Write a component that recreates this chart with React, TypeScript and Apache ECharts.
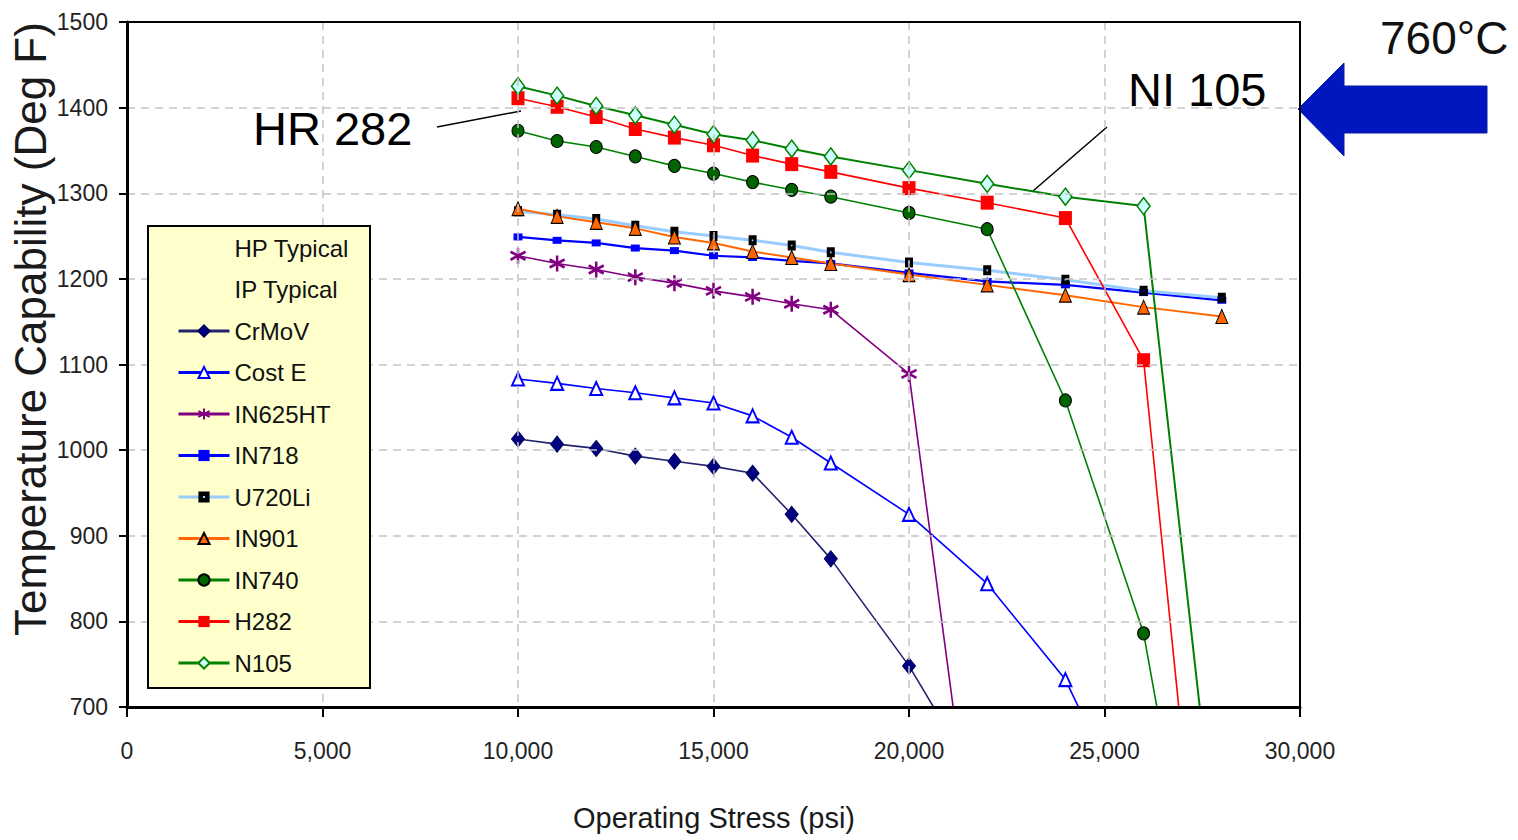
import React, { useEffect, useRef } from 'react';
import * as echarts from 'echarts';

const stress = [10000, 11000, 12000, 13000, 14000, 15000, 16000, 17000, 18000, 20000, 22000, 24000, 26000, 28000];
const crMoV = [1013, 1007, 1002, 993, 987, 981, 973, 925, 873, 748, 595, null, null, null];
const costE = [1083, 1078, 1072, 1067, 1061, 1055, 1040, 1015, 985, 925, 844, 732, 540, null];
const in625ht = [1227, 1218, 1211, 1202, 1195, 1186, 1179, 1171, 1164, 1089, 400, null, null, null];
const in718 = [1249, 1245, 1242, 1236, 1233, 1227, 1225, 1221, 1218, 1207, 1197, 1193, 1184, 1175];
const u720li = [1279, 1275, 1270, 1262, 1255, 1250, 1245, 1239, 1231, 1219, 1210, 1199, 1186, 1178];
const in901 = [1282, 1273, 1266, 1259, 1249, 1242, 1232, 1225, 1218, 1205, 1193, 1181, 1167, 1156];
const in740 = [1373, 1361, 1354, 1343, 1332, 1323, 1313, 1304, 1296, 1277, 1258, 1058, 786, 280];
const h282 = [1411, 1401, 1389, 1375, 1365, 1356, 1344, 1334, 1325, 1306, 1289, 1271, 1105, 205];
const n105 = [1425, 1414, 1402, 1391, 1380, 1369, 1362, 1352, 1343, 1327, 1311, 1296, 1285, 470];

const headerLabels = ['HP Typical', 'IP Typical'];
const seriesNames = ['CrMoV', 'Cost E', 'IN625HT', 'IN718', 'U720Li', 'IN901', 'IN740', 'H282', 'N105'];

const ARIAL = "'Liberation Sans', Arial, sans-serif";

const pairs = (vals: (number | null)[]) =>
  stress.map((x, i) => (vals[i] == null ? null : [x, vals[i]])).filter((p) => p !== null);

const ASTERISK = 'path://M5 0L5 10M0.7 2.5L9.3 7.5M0.7 7.5L9.3 2.5';
const HOLLOW_SQ = 'path://M0 0H10V12H0Z M4 5V7H6V5Z';

export default function App() {
  const ref = useRef<HTMLDivElement>(null);
  useEffect(() => {
    if (!ref.current) return;
    const chart = echarts.init(ref.current, undefined, { renderer: 'svg' });

    const mk = (
      name: string,
      vals: (number | null)[],
      lineColor: string,
      lineWidth: number,
      symbol: string,
      symbolSize: number | number[],
      itemStyle: any
    ) => ({
      type: 'line',
      name,
      data: pairs(vals),
      symbol,
      symbolSize,
      showSymbol: true,
      clip: true,
      lineStyle: { color: lineColor, width: lineWidth },
      itemStyle,
      z: 3,
    });

    const series: any[] = [
      { type: 'line', name: headerLabels[0], data: [] },
      { type: 'line', name: headerLabels[1], data: [] },
      mk(seriesNames[0], crMoV, '#23236e', 1.6, 'diamond', [13, 16], { color: '#000080', borderColor: '#000060', borderWidth: 1 }),
      mk(seriesNames[1], costE, '#0000ff', 1.6, 'emptyTriangle', [12, 13], { color: '#0000ff', borderColor: '#0000ff', borderWidth: 1.8 }),
      mk(seriesNames[2], in625ht, '#800080', 1.6, ASTERISK, [15, 16], { color: '#800080', borderColor: '#800080', borderWidth: 2.6 }),
      mk(seriesNames[3], in718, '#0000ff', 2.2, 'rect', [9, 7], { color: '#0000ff', borderWidth: 0 }),
      mk(seriesNames[4], u720li, '#99ccff', 3, HOLLOW_SQ, [8, 10], { color: '#000000', borderWidth: 0 }),
      mk(seriesNames[5], in901, '#ff6600', 2, 'triangle', [12, 14], { color: '#ff6600', borderColor: '#000000', borderWidth: 1 }),
      mk(seriesNames[6], in740, '#008000', 1.6, 'circle', [12, 13], { color: '#006400', borderColor: '#000000', borderWidth: 1 }),
      mk(seriesNames[7], h282, '#ff0000', 1.6, 'rect', [13, 14], { color: '#ff0000', borderWidth: 0 }),
      mk(seriesNames[8], n105, '#008000', 2, 'diamond', [13, 17], { color: '#ccffff', borderColor: '#008000', borderWidth: 1.5 }),
    ];

    const dashed = { show: true, lineStyle: { color: '#c4c4c4', width: 1.5, type: [8, 6] } };

    const option: any = {
      animation: false,
      backgroundColor: '#ffffff',
      grid: {
        left: 127,
        right: 218,
        top: 22,
        bottom: 133,
        containLabel: false,
      },
      xAxis: [
        {
          type: 'value',
          min: 0,
          max: 30000,
          interval: 5000,
          axisLine: { show: true, lineStyle: { color: '#000', width: 3 } },
          axisTick: { show: true, inside: false, length: 10, lineStyle: { color: '#000', width: 2 } },
          axisLabel: {
            margin: 32,
            fontSize: 23,
            fontFamily: ARIAL,
            color: '#222',
            formatter: (v: number) => v.toLocaleString('en-US'),
          },
          splitLine: dashed,
          z: 4,
        },
        {
          type: 'value',
          position: 'top',
          min: 0,
          max: 30000,
          interval: 5000,
          axisLine: { show: true, onZero: false, lineStyle: { color: '#000', width: 2 } },
          axisTick: { show: false },
          axisLabel: { show: false },
          splitLine: { show: false },
          z: 4,
        },
      ],
      yAxis: [
        {
          type: 'value',
          min: 700,
          max: 1500,
          interval: 100,
          axisLine: { show: true, lineStyle: { color: '#000', width: 3 } },
          axisTick: { show: true, inside: false, length: 8, lineStyle: { color: '#000', width: 2 } },
          axisLabel: {
            margin: 19,
            fontSize: 23,
            fontFamily: ARIAL,
            color: '#222',
            formatter: (v: number) => String(v),
          },
          splitLine: dashed,
          z: 4,
        },
        {
          type: 'value',
          position: 'right',
          min: 700,
          max: 1500,
          interval: 100,
          axisLine: { show: true, onZero: false, lineStyle: { color: '#000', width: 2 } },
          axisTick: { show: false },
          axisLabel: { show: false },
          splitLine: { show: false },
          z: 4,
        },
      ],
      legend: {
        show: true,
        orient: 'vertical',
        left: 148,
        top: 226,
        padding: [7, 10, 10, 29],
        itemWidth: 51,
        itemHeight: 14,
        itemGap: 11.5,
        selectedMode: false,
        z: 10,
        textStyle: { fontSize: 24, fontFamily: ARIAL, color: '#111', lineHeight: 30 },
        lineStyle: { width: 3 },
        data: [
          { name: headerLabels[0], icon: 'none' },
          { name: headerLabels[1], icon: 'none' },
          ...seriesNames.map((n) => ({ name: n })),
        ],
      },
      graphic: [
        {
          type: 'rect',
          z: 5,
          shape: { x: 148, y: 226, width: 222, height: 462 },
          style: { fill: '#ffffcc', stroke: '#000000', lineWidth: 2 },
        },
        {
          type: 'text',
          x: 30,
          y: 329,
          rotation: Math.PI / 2,
          style: {
            text: 'Temperature Capability (Deg F)',
            font: `44px ${ARIAL}`,
            fill: '#1a1a1a',
            textAlign: 'center',
            textVerticalAlign: 'middle',
          },
        },
        {
          type: 'text',
          x: 714,
          y: 818,
          style: {
            text: 'Operating Stress (psi)',
            font: `29px ${ARIAL}`,
            fill: '#1a1a1a',
            textAlign: 'center',
            textVerticalAlign: 'middle',
          },
        },
        {
          type: 'text',
          x: 253,
          y: 128,
          style: { text: 'HR 282', font: `47px ${ARIAL}`, fill: '#000', textAlign: 'left', textVerticalAlign: 'middle' },
        },
        {
          type: 'line',
          shape: { x1: 437, y1: 127, x2: 521, y2: 111 },
          style: { stroke: '#000', lineWidth: 1.5 },
        },
        {
          type: 'text',
          x: 1128,
          y: 89,
          style: { text: 'NI 105', font: `47px ${ARIAL}`, fill: '#000', textAlign: 'left', textVerticalAlign: 'middle' },
        },
        {
          type: 'line',
          shape: { x1: 1107, y1: 127, x2: 1033, y2: 191 },
          style: { stroke: '#000', lineWidth: 1.5 },
        },
        {
          type: 'text',
          x: 1380,
          y: 38,
          style: { text: '760°C', font: `46px ${ARIAL}`, fill: '#111', textAlign: 'left', textVerticalAlign: 'middle' },
        },
        {
          type: 'polygon',
          shape: {
            points: [
              [1298, 109],
              [1344, 63],
              [1344, 86],
              [1487, 86],
              [1487, 133],
              [1344, 133],
              [1344, 156],
            ],
          },
          style: { fill: '#0016bf', stroke: '#0a1aa8', lineWidth: 1 },
        },
      ],
      series,
    };

    chart.setOption(option);
    return () => chart.dispose();
  }, []);

  return (
    <div
      ref={ref}
      style={{ position: 'fixed', left: 0, top: 0, width: 1518, height: 840, background: '#fff' }}
    />
  );
}
